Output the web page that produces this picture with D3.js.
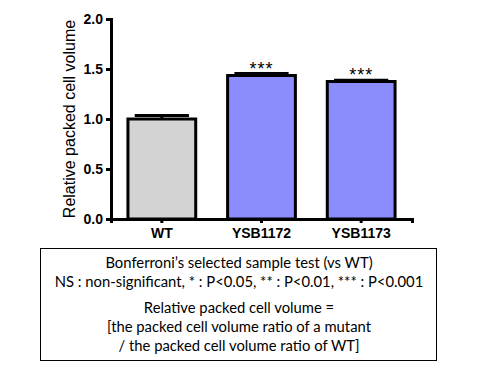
<!DOCTYPE html>
<html>
<head lang="en">
	<meta charset="UTF-8">
	<title>Relative packed cell volume</title>
	<style>
	body { margin: 0; background: #fff; }
	.axis path, .axis line { stroke: #000; stroke-width: 3; }
	.axis text { font-family: "Liberation Sans", Arial, sans-serif; font-weight: bold; font-size: 14px; fill: #000; }
	.note { font-family: Lato, Carlito, sans-serif; font-size: 14.8px; fill: #000; }
	</style>
	<script src="https://cdn.jsdelivr.net/npm/d3@7"></script>
</head>
<body>
<script>
	var categories = ["WT", "YSB1172", "YSB1173"];
	var means = [1.0, 1.435, 1.375];
	var errors = [0.035, 0.02, 0.012];
	var stars = ["", "***", "***"];
	var colors = ["#d3d3d3", "#8c8cff", "#8c8cff"];
	var yTicks = [0, 0.5, 1.0, 1.5, 2.0];
	var noteLines = [
		"Bonferroni\u2019s selected sample test (vs WT)",
		"NS : non-significant, * : P<0.05, ** : P<0.01, *** : P<0.001",
		"Relative packed cell volume =",
		"[the packed cell volume ratio of a mutant",
		"/ the packed cell volume ratio of WT]"
	];

	window.onload = function(){
		var width = 480, height = 370;
		var left = 111, right = 412, top = 19, bottom = 219;

		var svg = d3.select("body").append("svg")
			.attr("width", width)
			.attr("height", height);

		var x = d3.scaleBand()
			.domain(categories)
			.range([left, right])
			.paddingInner(0.32)
			.paddingOuter(0.17);

		var y = d3.scaleLinear()
			.domain([0, 2])
			.range([bottom, top]);

		// error bars (upper only, drawn behind bars)
		var g = svg.append("g");
		g.selectAll("line.err")
			.data(means)
			.enter().append("line")
			.attr("x1", function(d, i){ return x(categories[i]) + x.bandwidth() / 2; })
			.attr("x2", function(d, i){ return x(categories[i]) + x.bandwidth() / 2; })
			.attr("y1", function(d){ return y(d); })
			.attr("y2", function(d, i){ return y(d + errors[i]); })
			.attr("stroke", "#000").attr("stroke-width", 3);
		g.selectAll("line.cap")
			.data(means)
			.enter().append("line")
			.attr("x1", function(d, i){ return x(categories[i]) + x.bandwidth() * 0.1; })
			.attr("x2", function(d, i){ return x(categories[i]) + x.bandwidth() * 0.9; })
			.attr("y1", function(d, i){ return y(d + errors[i]); })
			.attr("y2", function(d, i){ return y(d + errors[i]); })
			.attr("stroke", "#000").attr("stroke-width", 3);

		// bars
		g.selectAll("rect")
			.data(means)
			.enter().append("rect")
			.attr("x", function(d, i){ return x(categories[i]); })
			.attr("width", x.bandwidth())
			.attr("y", function(d){ return y(d); })
			.attr("height", function(d){ return y(0) - y(d); })
			.attr("fill", function(d, i){ return colors[i]; })
			.attr("stroke", "#000")
			.attr("stroke-width", 3);

		// significance stars
		g.selectAll("text.star")
			.data(means)
			.enter().append("text")
			.attr("x", function(d, i){ return x(categories[i]) + x.bandwidth() / 2; })
			.attr("y", function(d, i){ return y(d + errors[i]) + 1; })
			.attr("text-anchor", "middle")
			.style("font-family", "'Liberation Sans', Arial, sans-serif")
			.style("font-size", "18px")
			.style("letter-spacing", "1px")
			.text(function(d, i){ return stars[i]; });

		// axes
		svg.append("g")
			.attr("class", "axis")
			.attr("transform", "translate(" + left + ",0)")
			.call(d3.axisLeft(y).tickValues(yTicks).tickFormat(d3.format(".1f")).tickSizeOuter(0).tickSize(5).tickPadding(3));

		svg.append("g")
			.attr("class", "axis")
			.attr("transform", "translate(0," + bottom + ")")
			.call(d3.axisBottom(x).tickSizeOuter(0).tickSize(4).tickPadding(5));

		svg.selectAll(".axis .domain").attr("stroke-width", 3);

		svg.append("text")
			.attr("transform", "translate(75," + ((top + bottom) / 2) + ")rotate(-90)")
			.attr("text-anchor", "middle")
			.style("font-family", "'Liberation Sans', Arial, sans-serif")
			.style("font-size", "16px")
			.text("Relative packed cell volume");

		// note box
		svg.append("rect")
			.attr("x", 40.5).attr("y", 248.5)
			.attr("width", 396).attr("height", 112)
			.attr("fill", "none").attr("stroke", "#000").attr("stroke-width", 1);

		var baselines = [268, 287, 313, 332, 351];
		svg.selectAll("text.note")
			.data(noteLines)
			.enter().append("text")
			.attr("class", "note")
			.attr("x", 239)
			.attr("y", function(d, i){ return baselines[i]; })
			.attr("text-anchor", "middle")
			.text(function(d){ return d; });
	};
</script>
</body>
</html>
